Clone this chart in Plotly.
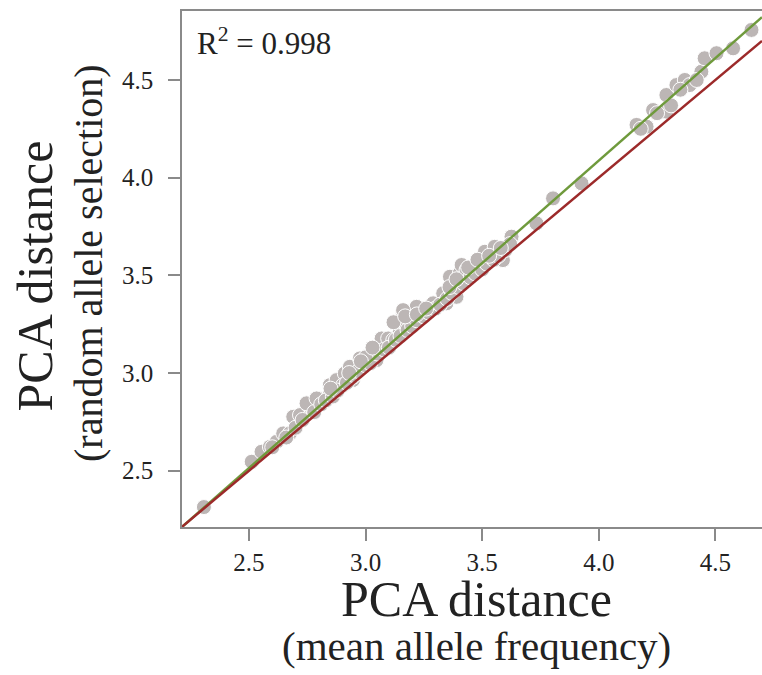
import plotly.graph_objects as go

# PCA distance (mean allele frequency)
x_mean = [2.307, 2.512, 2.554, 2.590, 2.619, 2.647, 2.676, 2.690, 2.719, 2.754,
          2.776, 2.797, 2.847, 2.861, 2.904, 2.946, 2.747, 2.790, 2.847, 2.876,
          2.911, 2.933, 2.976, 3.004, 3.040, 3.069, 3.097, 3.147, 3.161, 3.219,
          3.283, 3.176, 3.347, 3.362, 3.404, 3.433, 2.947, 2.904, 3.047, 3.119,
          3.161, 3.290, 3.333, 3.390, 3.412, 3.433, 3.483, 3.512, 3.554, 3.589,
          3.626, 3.733, 3.804, 3.926, 4.162, 4.205, 4.233, 4.290, 4.290, 4.333,
          4.369, 4.390, 4.440, 4.454, 4.505, 4.576, 4.655,
          2.60, 2.66, 2.70, 2.73, 2.78, 2.81, 2.83, 2.86, 2.88, 2.92,
          2.95, 2.97, 3.00, 3.02, 3.05, 3.08, 3.10, 3.13, 3.15, 3.18,
          3.20, 3.22, 3.25, 3.27, 3.30, 3.32, 3.35, 3.37, 3.40, 3.42,
          3.45, 3.47, 3.50, 3.52, 3.55, 3.57, 3.60, 3.62, 3.00, 3.03,
          3.12, 3.17, 3.22, 3.26, 2.98, 2.93, 2.85, 3.36, 3.39, 3.44,
          3.48, 3.53, 3.58, 4.18, 4.25, 4.31, 4.35, 4.42]
# PCA distance (random allele selection)
y_random = [2.314, 2.546, 2.597, 2.622, 2.648, 2.691, 2.692, 2.776, 2.785, 2.836,
            2.819, 2.870, 2.896, 2.938, 2.947, 2.964, 2.845, 2.870, 2.938, 2.964,
            2.998, 3.032, 3.075, 3.083, 3.126, 3.177, 3.177, 3.211, 3.305, 3.339,
            3.348, 3.246, 3.357, 3.493, 3.510, 3.476, 2.981, 2.938, 3.066, 3.169,
            3.322, 3.357, 3.408, 3.390, 3.553, 3.527, 3.544, 3.621, 3.646, 3.578,
            3.698, 3.766, 3.894, 3.971, 4.270, 4.261, 4.346, 4.338, 4.423, 4.474,
            4.500, 4.474, 4.542, 4.611, 4.637, 4.662, 4.756,
            2.62, 2.67, 2.72, 2.76, 2.80, 2.84, 2.86, 2.88, 2.91, 2.95,
            2.99, 3.01, 3.04, 3.05, 3.10, 3.12, 3.13, 3.17, 3.19, 3.22,
            3.24, 3.27, 3.29, 3.31, 3.33, 3.35, 3.38, 3.41, 3.44, 3.46,
            3.49, 3.51, 3.53, 3.56, 3.58, 3.60, 3.63, 3.66, 3.08, 3.13,
            3.26, 3.29, 3.30, 3.33, 3.06, 3.00, 2.92, 3.44, 3.48, 3.54,
            3.58, 3.60, 3.64, 4.25, 4.33, 4.37, 4.45, 4.50]

axis_range = [2.213, 4.70]
y_range = [2.212, 4.853]
tick_vals = [2.5, 3.0, 3.5, 4.0, 4.5]
tick_text = ["2.5", "3.0", "3.5", "4.0", "4.5"]
fit_slope = 1.049
fit_intercept = -0.109
r2_text = "R<sup>2</sup> = 0.998"

serif = "Liberation Serif"

fig = go.Figure()
fig.add_trace(go.Scatter(
    x=x_mean, y=y_random, mode="markers",
    marker=dict(size=15, color="#bcb6b5", line=dict(color="white", width=1)),
    showlegend=False, cliponaxis=True))

fit_x = axis_range
fit_y = [fit_slope * v + fit_intercept for v in fit_x]
fig.add_trace(go.Scatter(x=fit_x, y=fit_y, mode="lines",
                         line=dict(color="#6f9a3c", width=2.5), showlegend=False))
fig.add_trace(go.Scatter(x=axis_range, y=axis_range, mode="lines",
                         line=dict(color="#9c2a2a", width=2.5), showlegend=False))

axis_common = dict(showline=True, linecolor="#8a8a8a", linewidth=1.5,
                   ticks="outside", ticklen=12, tickcolor="#8a8a8a", tickwidth=1.5,
                   showgrid=False, zeroline=False, automargin=False,
                   tickfont=dict(family=serif, size=25, color="#222"),
                   tickvals=tick_vals, ticktext=tick_text)

fig.update_xaxes(range=axis_range, mirror=True, ticklabelstandoff=0, **axis_common)
fig.update_yaxes(range=y_range, mirror=False, ticklabelstandoff=10, **axis_common)

fig.add_annotation(xref="paper", yref="paper", x=0.507, y=-0.140,
                   text="PCA distance", showarrow=False,
                   font=dict(family=serif, size=50, color="#222"),
                   xanchor="center", yanchor="middle")
fig.add_annotation(xref="paper", yref="paper", x=0.507, y=-0.231,
                   text="(mean allele frequency)", showarrow=False,
                   font=dict(family=serif, size=41, color="#222"),
                   xanchor="center", yanchor="middle")
fig.add_annotation(xref="paper", yref="paper", x=-0.253, y=0.486,
                   text="PCA distance", showarrow=False, textangle=-90,
                   font=dict(family=serif, size=50, color="#222"),
                   xanchor="center", yanchor="middle")
fig.add_annotation(xref="paper", yref="paper", x=-0.160, y=0.512,
                   text="(random allele selection)", showarrow=False, textangle=-90,
                   font=dict(family=serif, size=40, color="#222"),
                   xanchor="center", yanchor="middle")
fig.add_annotation(xref="paper", yref="paper", x=0.022, y=0.94,
                   text=r2_text, showarrow=False,
                   font=dict(family=serif, size=31, color="#222"),
                   xanchor="left", yanchor="middle")

fig.update_layout(width=762, height=675,
                  margin=dict(l=182, r=0, t=11, b=148, autoexpand=False),
                  plot_bgcolor="white", paper_bgcolor="white")

fig.write_html("out.html", config={"displayModeBar": False},
               post_script="document.body.style.margin='0';"
                           "document.body.style.overflow='hidden';"
                           "document.documentElement.style.overflow='hidden';")
